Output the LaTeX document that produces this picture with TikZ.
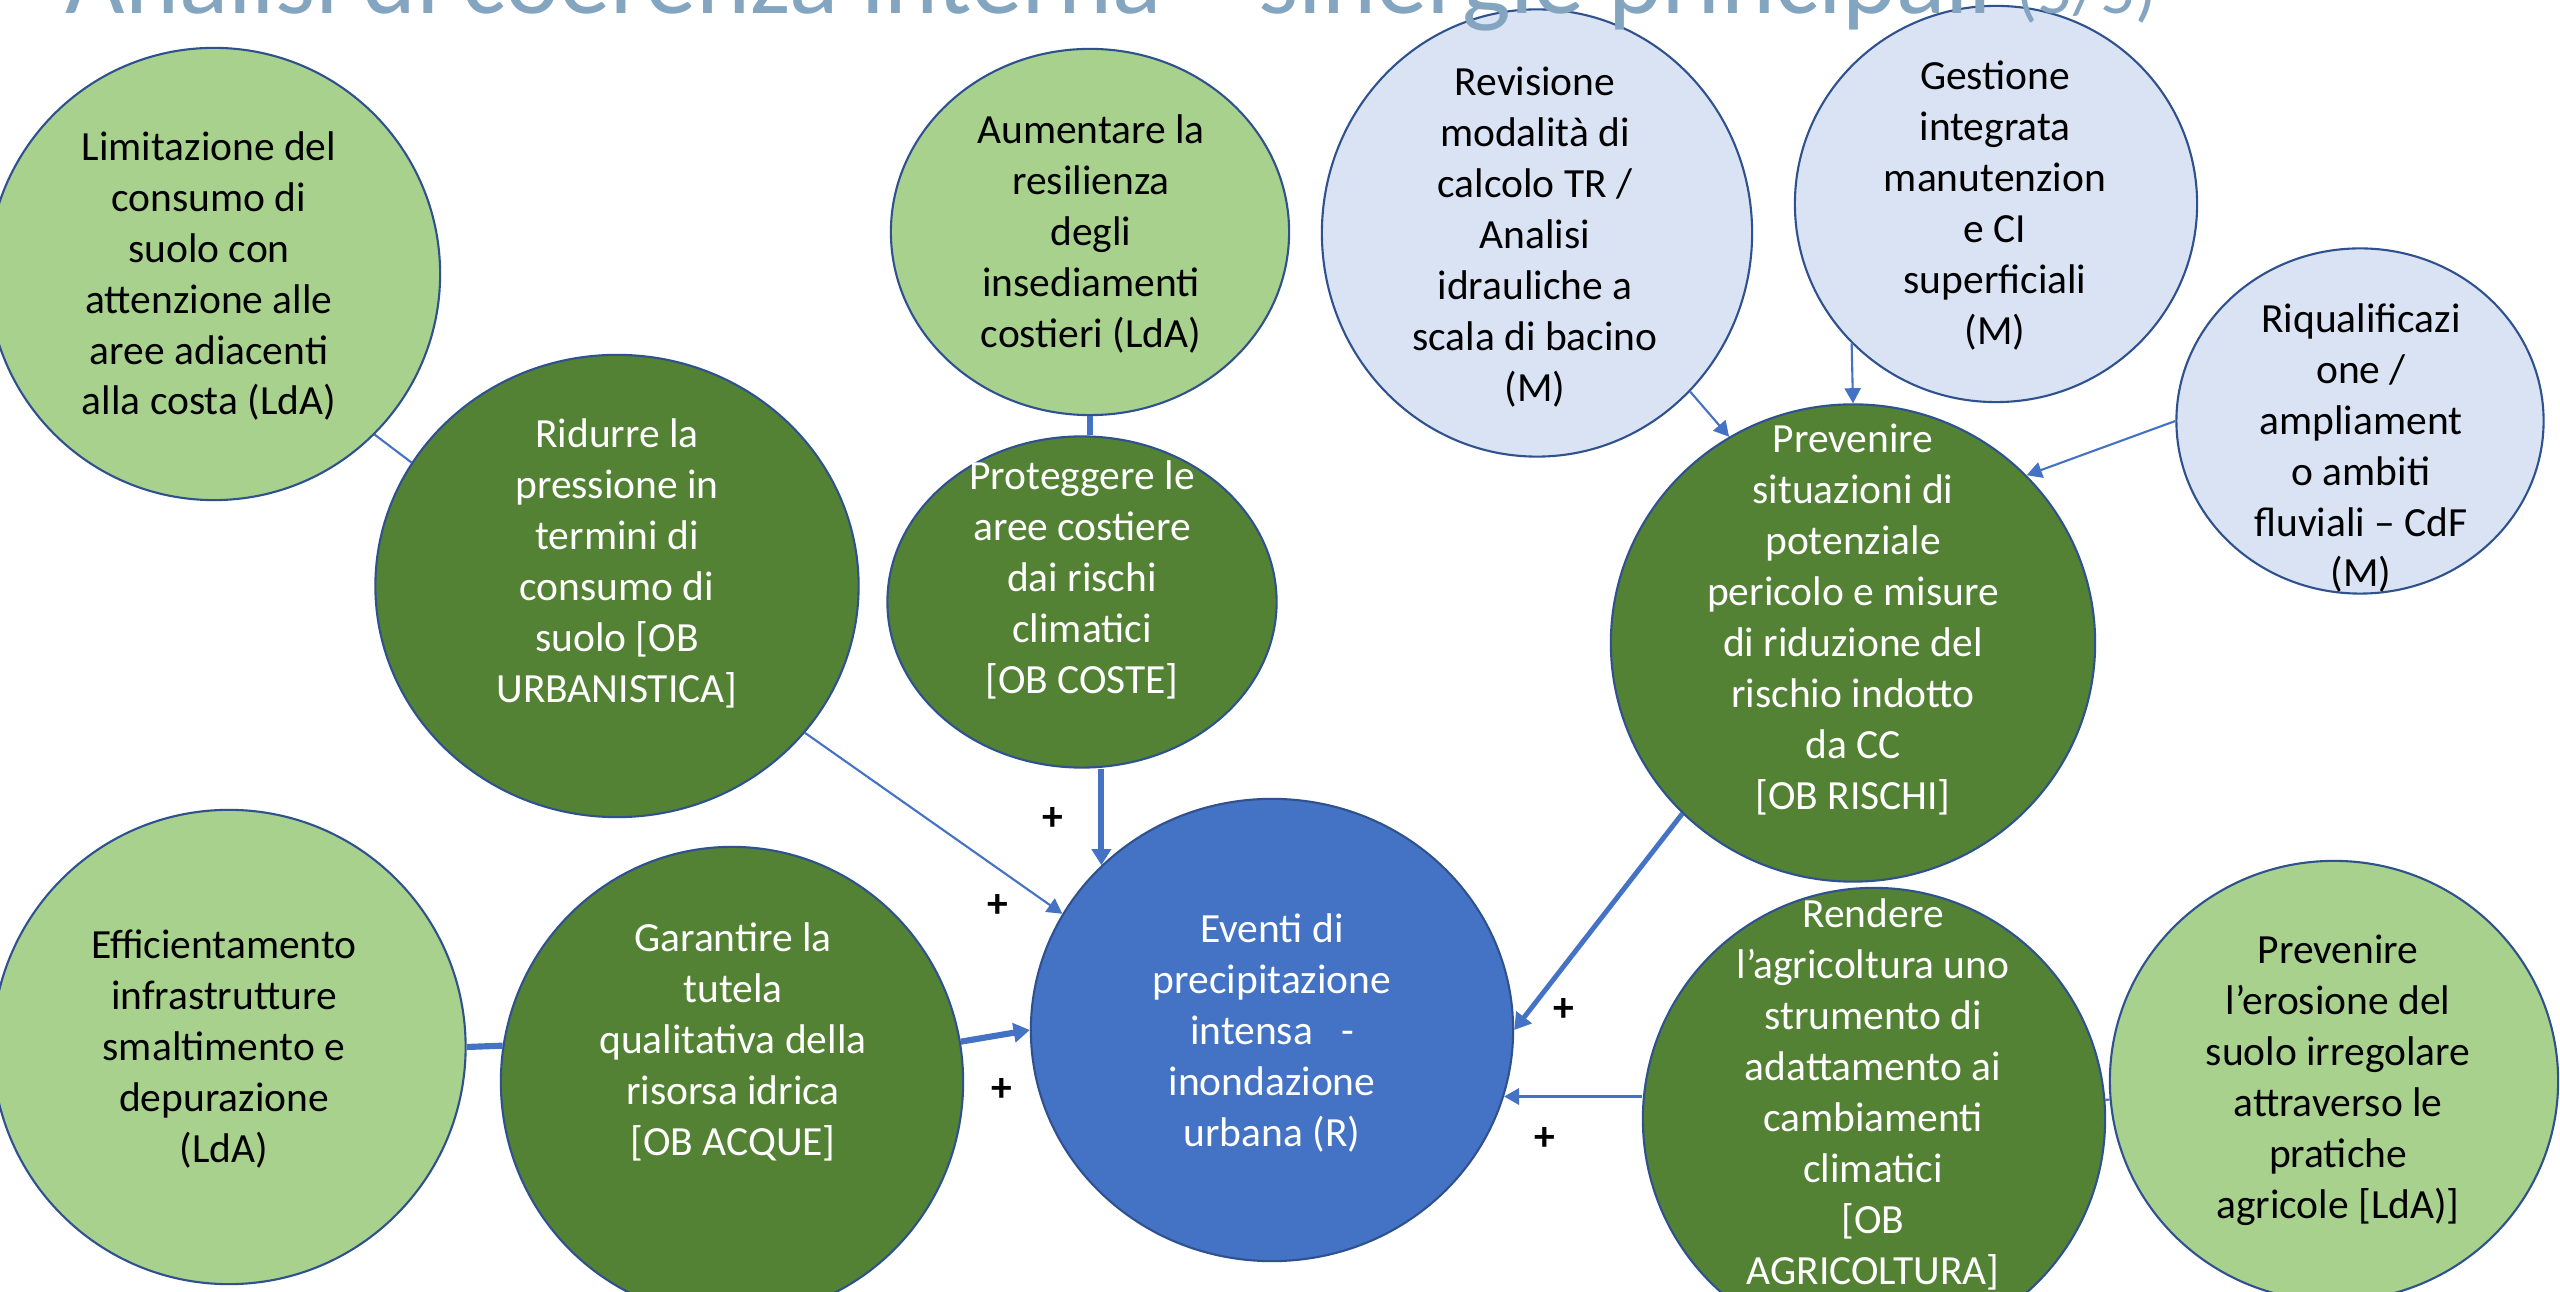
\documentclass[tikz,border=0pt]{standalone}
\usepackage{fontspec}
\setmainfont{Carlito}
\usetikzlibrary{shapes.geometric,arrows.meta}
\definecolor{lgreen}{HTML}{A9D18E}
\definecolor{dgreen}{HTML}{548235}
\definecolor{evblue}{HTML}{4472C4}
\definecolor{lblue}{HTML}{DAE3F3}
\definecolor{edgec}{HTML}{2F528F}
\definecolor{conn}{HTML}{4472C4}
\definecolor{titlec}{HTML}{84A5C0}
\tikzset{
  bub/.style={ellipse, draw=edgec, line width=0.6pt, inner sep=0pt},
  lg/.style={bub, fill=lgreen},
  dg/.style={bub, fill=dgreen},
  lb/.style={bub, fill=lblue},
  bl/.style={bub, fill=evblue},
  txt/.style={align=center, font=\fontsize{11.8pt}{14.5pt}\selectfont, inner sep=0pt},
  wt/.style={txt, text=white},
  bk/.style={txt, text=black},
  plus/.style={font=\fontsize{11.8pt}{14.5pt}\selectfont\bfseries, inner sep=0pt, text=black},
  lnthin/.style={draw=conn, line width=0.6pt},
  lnmid/.style={draw=conn, line width=0.95pt},
  lnthick/.style={draw=conn, line width=1.75pt},
  tipthin/.style={-{Triangle[length=4.3pt,width=4.6pt]}},
  tipthick/.style={-{Triangle[length=4.6pt,width=5.4pt]}},
}
\begin{document}
\begin{tikzpicture}[x=0.01cm,y=-0.01cm]
\useasboundingbox (0,0) rectangle (2560,1292);
\clip (0,0) rectangle (2560,1292);
\fill[white] (0,0) rectangle (2560,1292);

% ellipses
\node[lg, minimum width=4.52cm, minimum height=4.52cm] (lim) at (214,274) {};
\node[dg, minimum width=4.83cm, minimum height=4.62cm] (rid) at (617,586) {};
\node[lg, minimum width=4.73cm, minimum height=4.74cm] (eff) at (229,1047) {};
\node[dg, minimum width=4.62cm, minimum height=4.70cm] (gar) at (732,1082) {};
\node[bl, minimum width=4.82cm, minimum height=4.62cm] (ev) at (1272,1030) {};
\node[lg, minimum width=3.98cm, minimum height=3.66cm] (aum) at (1090,232) {};
\node[dg, minimum width=3.89cm, minimum height=3.31cm] (prot) at (1082,602) {};
\node[lb, minimum width=4.30cm, minimum height=4.47cm] (rev) at (1537,233) {};
\node[lb, minimum width=4.02cm, minimum height=3.96cm] (ges) at (1996,204) {};
\node[lb, minimum width=3.67cm, minimum height=3.45cm] (riq) at (2360,421) {};
\node[dg, minimum width=4.84cm, minimum height=4.77cm] (ris) at (1853,643) {};
\node[dg, minimum width=4.62cm, minimum height=4.62cm] (ren) at (1874,1119) {};
\node[lg, minimum width=4.48cm, minimum height=4.40cm] (ero) at (2334,1081) {};

% texts
\node[bk] (limT) at (209,276) {Limitazione del\\consumo di\\suolo con\\attenzione alle\\aree adiacenti\\alla costa (LdA)};
\node[wt] (ridT) at (617,563) {Ridurre la\\pressione in\\termini di\\consumo di\\suolo [OB\\URBANISTICA]};
\node[bk] (effT) at (224,1049) {Efficientamento\\infrastrutture\\smaltimento e\\depurazione\\(LdA)};
\node[wt] (garT) at (733,1042) {Garantire la\\tutela\\qualitativa della\\risorsa idrica\\{[OB ACQUE]}};
\node[wt] (evT) at (1272,1033) {Eventi di\\precipitazione\\intensa\ \ \ -\\inondazione\\urbana (R)};
\node[bk] (aumT) at (1091,234) {Aumentare la\\resilienza\\degli\\insediamenti\\costieri (LdA)};
\node[wt] (protT) at (1082,580) {Proteggere le\\aree costiere\\dai rischi\\climatici\\{[OB COSTE]}};
\node[bk] (revT) at (1535,237) {Revisione\\modalità di\\calcolo TR /\\Analisi\\idrauliche a\\scala di bacino\\(M)};
\node[bk] (gesT) at (1995,206) {Gestione\\integrata\\manutenzion\\e CI\\superficiali\\(M)};
\node[bk] (riqT) at (2361,448) {Riqualificazi\\one /\\ampliament\\o ambiti\\fluviali – CdF\\(M)};
\node[wt] (risT) at (1853,620) {Prevenire\\situazioni di\\potenziale\\pericolo e misure\\di riduzione del\\rischio indotto\\da CC\\{[OB RISCHI]}};
\node[wt] (renT) at (1873,1094) {Rendere\\l’agricoltura uno\\strumento di\\adattamento ai\\cambiamenti\\climatici\\{[OB}\\AGRICOLTURA]};
\node[bk] (eroT) at (2338,1080) {Prevenire\\l’erosione del\\suolo irregolare\\attraverso le\\pratiche\\agricole [LdA)]};

% connectors
\draw[lnthin] (lim.-45) -- (rid.149);
\draw[lnthin, tipthin] (rid.-38) -- (ev.151);
\draw[lnthick] (aum.south) -- (aum.south |- prot.north);
\draw[lnthick, tipthick] (prot.south -| ev.136) -- (ev.136);
\draw[lnthick] (eff.east) -- (gar.171);
\draw[lnthick, tipthick] (gar.10) -- (ev.west);
\draw[lnthin, tipthin] (rev.-46) -- (ris.121);
\draw[lnthin, tipthin] (ges.-136) -- (ris.north);
\draw[lnthin, tipthin] (riq.west) -- (ris.44);
\draw[draw=conn, line width=1.4pt, tipthick] (ris.-135) -- (ev.east);
\draw[lnmid, tipthin] (ren.west |- ev.-16) -- (ev.-16);
\draw[lnthin] (ren) -- (ero);

% plus signs
\node[plus] (p1) at (1053,819) {+};
\node[plus] (p2) at (998,906) {+};
\node[plus] (p3) at (1002,1090) {+};
\node[plus] (p4) at (1564,1010) {+};
\node[plus] (p5) at (1545,1139) {+};

% title (cut at top)
\node[anchor=base west, text=titlec, inner sep=0pt, font=\fontsize{29.2pt}{34pt}\selectfont] (title) at (65,14) {Analisi di coerenza interna – sinergie principali {\fontsize{20pt}{24pt}\selectfont(5/5)}};
\end{tikzpicture}
\end{document}
